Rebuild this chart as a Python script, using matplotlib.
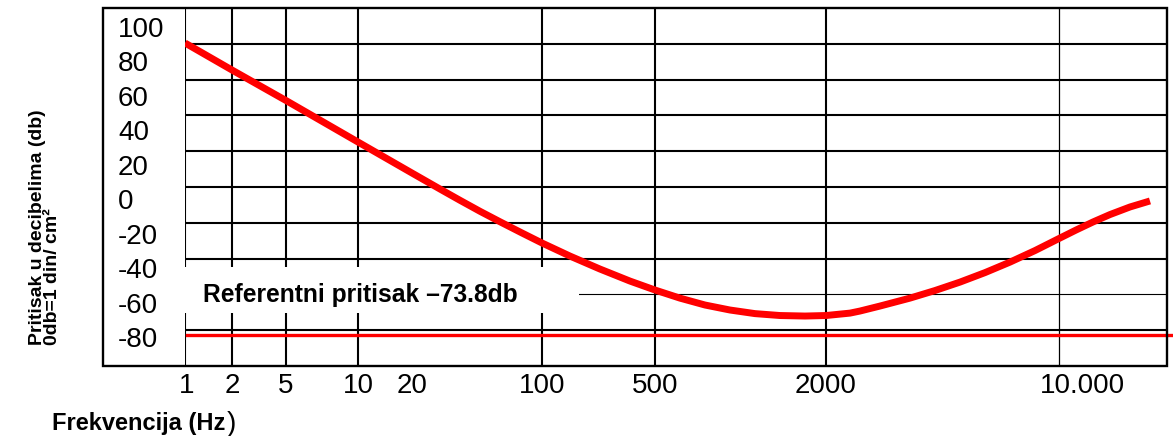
import numpy as np
import matplotlib
matplotlib.use('Agg')
import matplotlib.pyplot as plt
from matplotlib.patches import Rectangle

plt.rcParams['font.family'] = ['Liberation Sans', 'DejaVu Sans']

# curve (frequency in Hz, level in dB)
freq_hz = [1, 2, 5, 10, 20, 28.3, 36.2, 46.4, 59.5, 77.1, 100, 149, 228,
           350, 500, 612, 750, 918, 1125, 1377, 1687, 2000, 2361, 2529,
           2904, 3573, 4246, 5047, 5998, 7129, 8473, 10000, 11150, 12440,
           13870, 15770, 17930]
level_db = [90.7, 75.0, 57.3, 33.2, 15.2, 5.9, -0.6, -7.0, -13.1, -19.3,
            -25.4, -33.0, -40.5, -47.5, -52.7, -57.4, -61.4, -64.3, -66.4,
            -67.5, -67.8, -67.5, -66.1, -64.9, -62.0, -57.4, -53.0, -48.1,
            -42.6, -36.5, -29.8, -22.8, -17.9, -13.2, -8.9, -4.5, -1.0]
ref_level = -78.8
ref_text = 'Referentni pritisak \u201373.8db'

y_ticks = [100, 80, 60, 40, 20, 0, -20, -40, -60, -80]
x_ticks = [1, 2, 5, 10, 20, 100, 500, 2000, 10000]
x_labels = ['1', '2', '5', '10', '20', '100', '500', '2000', '10.000']
grid_freqs = [1, 2, 5, 10, 100, 500, 2000, 10000]

# the frequency axis is not a true log axis: piecewise log between anchors
anchor_f = np.log10([1, 2, 5, 10, 20, 100, 500, 2000, 10000, 20000])
anchor_p = np.array([0, 47, 101, 173, 227, 357, 470, 641, 874, 982], float)


def fwd(f):
    lf = np.log10(np.clip(np.asarray(f, float), 1e-9, None))
    return np.interp(lf, anchor_f, anchor_p)


def inv(p):
    return 10 ** np.interp(np.asarray(p, float), anchor_p, anchor_f)


W, H = 1173, 436
fig = plt.figure(figsize=(W / 100, H / 100), dpi=100)
ax = fig.add_axes([185 / W, 70 / H, 982 / W, 358 / H])
ax.set_xscale('function', functions=(fwd, inv))
ax.set_xlim(1, 20000)
ax.set_ylim(-96.8, 111)
for s in ax.spines.values():
    s.set_visible(False)

# outer frame, including the strip holding the y labels
fig.patches.append(Rectangle((103 / W, 70 / H), 1064 / W, 358 / H,
                             transform=fig.transFigure, fill=False,
                             ec='black', lw=1.7, zorder=5))

# grid: rows of the frame and the vertical frequency lines
for k in range(1, 10):
    ax.plot([0, 1], [k / 10, k / 10], transform=ax.transAxes, color='black',
            lw=0.8 if k == 2 else 1.5, zorder=1, solid_capstyle='butt')
for f in grid_freqs:
    ax.axvline(f, color='black', lw=0.9 if f == 10000 else 1.5, zorder=1)

# white area behind the reference text
ax.add_patch(Rectangle((-0.006, 0.148), 0.407, 0.1285, transform=ax.transAxes,
                       fc='white', ec='none', zorder=2, clip_on=False))
ax.text(0.0183, 0.1788, ref_text, transform=ax.transAxes, fontsize=17.7,
        fontweight='bold', va='baseline', ha='left', zorder=3)

ax.plot(freq_hz, level_db, color='#ff0000', lw=5, zorder=4,
        solid_capstyle='butt', solid_joinstyle='round')
ax.axhline(ref_level, xmin=0.002, xmax=1.006, color='#ff0000', lw=2.4,
           zorder=4, clip_on=False)

ax.set_yticks(y_ticks)
ax.set_yticklabels([str(v) for v in y_ticks], fontsize=20)
ax.tick_params(axis='y', length=0, pad=48.2)
for lab in ax.get_yticklabels():
    lab.set_ha('left')

ax.set_xticks([])
for f, lab in zip(x_ticks, x_labels):
    dx = 23 if lab == '10.000' else (2 if lab == '1' else 0)
    ax.annotate(lab, xy=(f, 0), xycoords=('data', 'axes fraction'),
                xytext=(dx, -7), textcoords='offset pixels',
                ha='center', va='top', fontsize=20)

fig.text(42 / W, (H - 345) / H, 'Pritisak u decibelima (db)', rotation=90,
         rotation_mode='anchor', ha='left', va='baseline', fontsize=14,
         fontweight='bold')
fig.text(57 / W, (H - 345) / H, '0db=1 din/ cm\u00b2', rotation=90,
         rotation_mode='anchor', ha='left', va='baseline', fontsize=14,
         fontweight='bold')

fig.text(52 / W, (H - 430) / H, 'Frekvencija (Hz', fontsize=17,
         fontweight='bold', ha='left', va='baseline')
fig.text(227 / W, (H - 431) / H, ')', fontsize=20, ha='left', va='baseline')

fig.savefig('out.png', dpi=100)
